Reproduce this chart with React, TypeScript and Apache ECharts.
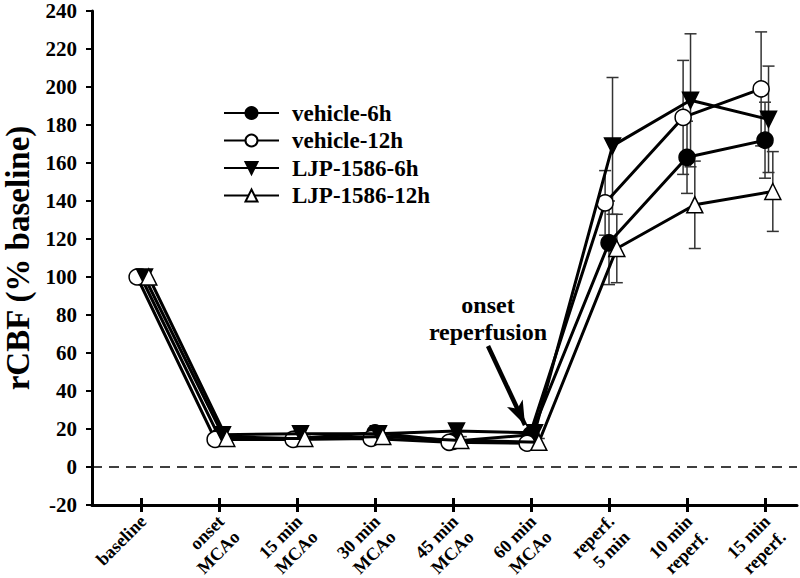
import React, { useEffect, useRef } from "react";
import * as echarts from "echarts";

const categories = [
  "baseline",
  "onset\nMCAo",
  "15 min\nMCAo",
  "30 min\nMCAo",
  "45 min\nMCAo",
  "60 min\nMCAo",
  "reperf.\n5 min",
  "10 min\nreperf.",
  "15 min\nreperf.",
];

const seriesNames = ["vehicle-6h", "vehicle-12h", "LJP-1586-6h", "LJP-1586-12h"];

const vehicle6h = [100, 16, 15, 18, 13.5, 17, 118, 163, 172];
const vehicle6hErr = [0, 2, 2, 2, 2, 2, 22, 19, 20];
const vehicle12h = [100, 14.5, 14.5, 15, 13, 12.5, 139, 184, 199];
const vehicle12hErr = [0, 2, 2, 2, 2, 2, 17, 30, 30];
const ljp6h = [100, 17, 17.5, 17.5, 19, 18, 169, 193, 183];
const ljp6hErr = [0, 2, 2, 2, 2, 2, 36, 35, 28];
const ljp12h = [100, 15, 15, 16, 14, 13, 115, 138, 145];
const ljp12hErr = [0, 2, 2, 2, 2, 2, 18, 23, 21];

// small horizontal jitter of each group around its category (in category units)
const xJitter = [0, -0.05, 0.045, 0.1];

const yTicks = { min: -20, max: 240, step: 20 };

const FONT = "Liberation Serif";

export default function App() {
  const ref = useRef<HTMLDivElement>(null);

  useEffect(() => {
    if (!ref.current) return;
    const chart = echarts.init(ref.current, undefined, { renderer: "svg" });

    const values = [vehicle6h, vehicle12h, ljp6h, ljp12h];
    const errs = [vehicle6hErr, vehicle12hErr, ljp6hErr, ljp12hErr];
    const symbols = ["circle", "circle", "triangle", "triangle"];
    const rotates = [0, 0, 180, 0];
    const fills = ["#000", "#fff", "#000", "#fff"];
    const sizes = [16, 16, 16, 16];
    const tickValues = categories.map((_, i) => i);

    const lineSeries: any[] = values.map((vals, s) => ({
      type: "line",
      name: seriesNames[s],
      data: vals.map((v, i) => [i + xJitter[s], v]),
      symbol: symbols[s],
      symbolRotate: rotates[s],
      symbolSize: sizes[s],
      showAllSymbol: true,
      lineStyle: { color: "#000", width: 3 },
      itemStyle: { color: fills[s], borderColor: "#000", borderWidth: 1.5, opacity: 1 },
      z: 5 + s,
      silent: true,
    }));

    lineSeries[0].markLine = {
      silent: true,
      symbol: ["none", "none"],
      label: { show: false },
      lineStyle: { color: "#000", type: [10, 7], width: 1.5 },
      data: [{ yAxis: 0 }],
    };
    lineSeries[1].markLine = {
      silent: true,
      symbol: ["none", "arrow"],
      symbolSize: [13, 24],
      label: { show: false },
      lineStyle: { color: "#000", type: "solid", width: 4.5 },
      data: [[{ coord: [4.449, 63.7] }, { coord: [4.923, 22.1] }]],
    };

    const errSeries = values.map((vals, s) => ({
      type: "custom",
      name: seriesNames[s] + "-err",
      silent: true,
      z: 2,
      data: vals.map((v, i) => [i + xJitter[s], v - errs[s][i], v + errs[s][i]]),
      renderItem: (params: any, api: any) => {
        const x = api.value(0);
        const lo = api.value(1);
        const hi = api.value(2);
        if (hi - lo <= 0) return null;
        const top = api.coord([x, hi]);
        const bot = api.coord([x, lo]);
        const hw = 6;
        const st = { stroke: "#333", lineWidth: 1.5 };
        return {
          type: "group",
          children: [
            { type: "line", shape: { x1: top[0], y1: top[1], x2: bot[0], y2: bot[1] }, style: st },
            { type: "line", shape: { x1: top[0] - hw, y1: top[1], x2: top[0] + hw, y2: top[1] }, style: st },
            { type: "line", shape: { x1: bot[0] - hw, y1: bot[1], x2: bot[0] + hw, y2: bot[1] }, style: st },
          ],
        };
      },
    }));

    const option: any = {
      animation: false,
      backgroundColor: "#fff",
      grid: {
        left: 92,
        right: 3,
        top: 11,
        bottom: 73,
        containLabel: false,
        outerBoundsMode: "none",
      },
      legend: {
        data: seriesNames,
        orient: "vertical",
        left: 223,
        top: 101,
        padding: 0,
        itemWidth: 55,
        itemHeight: 15,
        itemGap: 3.5,
        textStyle: {
          fontFamily: FONT,
          fontWeight: "bold",
          fontSize: 23,
          lineHeight: 24,
          color: "#000",
          padding: [0, 0, 0, 8],
        },
      },
      xAxis: [
        {
          type: "value",
          min: -0.628,
          max: 8.41,
          axisLine: { show: true, onZero: false, lineStyle: { color: "#000", width: 3 } },
          axisTick: {
            show: true,
            customValues: tickValues,
            length: 7,
            lineStyle: { color: "#000", width: 3 },
          },
          axisLabel: {
            show: true,
            customValues: tickValues,
            formatter: (v: number) => categories[Math.round(v)] ?? "",
            rotate: 45,
            fontFamily: FONT,
            fontWeight: "bold",
            fontSize: 18,
            lineHeight: 22,
            color: "#000",
            verticalAlign: "top",
            padding: [0, 8, 0, 0],
            margin: 0,
          },
          splitLine: { show: false },
        },
        {
          type: "value",
          min: -0.628,
          max: 8.41,
          position: "bottom",
          axisLine: { show: false, onZero: false },
          axisTick: {
            show: true,
            inside: true,
            customValues: tickValues,
            length: 7,
            lineStyle: { color: "#000", width: 3 },
          },
          axisLabel: { show: false },
          splitLine: { show: false },
        },
      ],
      yAxis: {
        type: "value",
        min: yTicks.min,
        max: yTicks.max,
        interval: yTicks.step,
        name: "rCBF (% baseline)",
        nameLocation: "middle",
        nameGap: 55,
        nameTextStyle: {
          fontFamily: FONT,
          fontWeight: "bold",
          fontSize: 33,
          lineHeight: 33,
          color: "#000",
        },
        axisLine: { show: true, onZero: false, lineStyle: { color: "#000", width: 3 } },
        axisTick: { show: true, length: 6, lineStyle: { color: "#000", width: 2 } },
        axisLabel: {
          fontFamily: FONT,
          fontWeight: "bold",
          fontSize: 21,
          lineHeight: 19,
          color: "#000",
          margin: 15,
        },
        splitLine: { show: false },
      },
      graphic: [
        {
          type: "text",
          x: 488,
          y: 318,
          style: {
            text: "onset\nreperfusion",
            fontFamily: FONT,
            fontWeight: "bold",
            fontSize: 24,
            lineHeight: 27,
            fill: "#000",
            textAlign: "center",
            textVerticalAlign: "middle",
          },
        },
      ],
      series: [...errSeries, ...lineSeries],
    };

    chart.setOption(option);
    return () => chart.dispose();
  }, []);

  return <div ref={ref} style={{ width: 800, height: 578, position: "absolute", left: 0, top: 0 }} />;
}
